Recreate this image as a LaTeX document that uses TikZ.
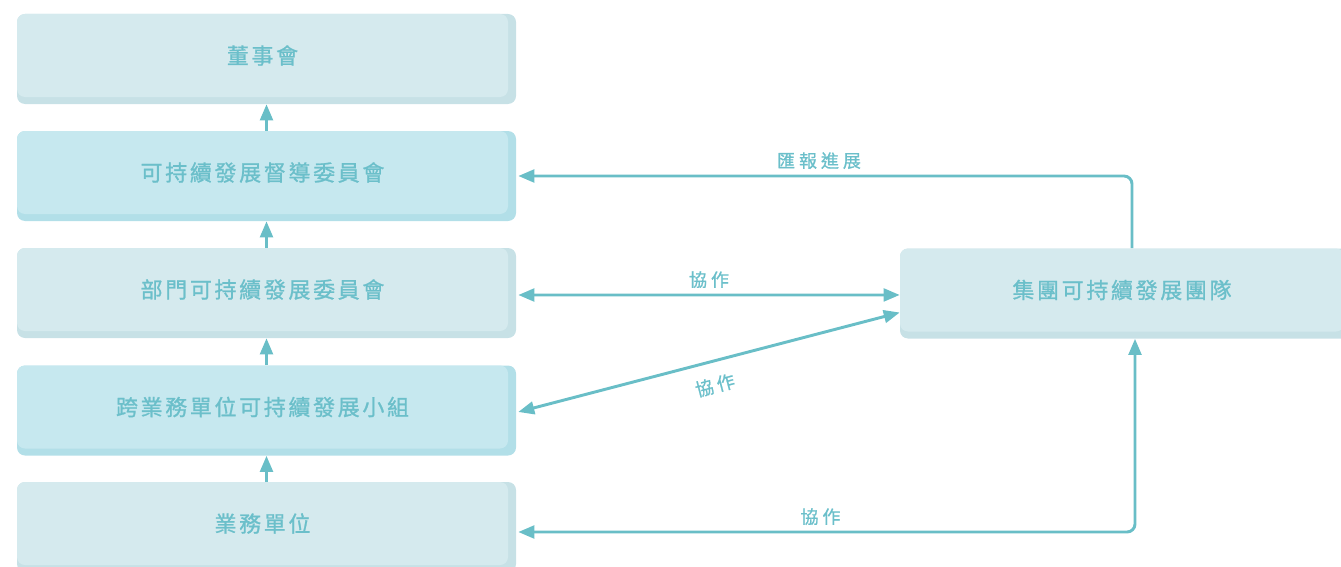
\documentclass[tikz,border=0pt]{standalone}
\usepackage{fontspec}
\newfontfamily\cjkbox[LetterSpace=12,FakeBold=1]{Noto Sans CJK TC}
\newfontfamily\cjklab[LetterSpace=22,FakeBold=1]{Noto Sans CJK TC}
\usetikzlibrary{arrows.meta}
\definecolor{facelt}{HTML}{D5EAEE}
\definecolor{shadelt}{HTML}{C7E1E6}
\definecolor{facebl}{HTML}{C6E8EF}
\definecolor{shadebl}{HTML}{B2DFE8}
\definecolor{txt}{HTML}{6BBFCA}
\definecolor{ln}{HTML}{69BEC7}
\begin{document}
\begin{tikzpicture}[x=0.75pt,y=-0.75pt,
  orgbox/.style 2 args={rectangle, rounded corners=6pt, minimum width=374.25pt, minimum height=67.5pt, inner sep=0pt, fill=#2,
    path picture={\fill[#1, rounded corners=6pt] (path picture bounding box.north west) rectangle ([xshift=-6pt,yshift=5.25pt]path picture bounding box.south east);}},
  boxtext/.style={text=txt, font=\cjkbox\fontsize{16.5}{19}\selectfont, inner sep=0pt},
  lab/.style={text=txt, font=\cjklab\fontsize{13.5}{16}\selectfont, inner sep=0pt, anchor=base, yshift=6.4pt},
  conn/.style={draw=ln, line width=2.2pt, -{Triangle[length=12pt,width=9.5pt]}},
  both/.style={{Triangle[length=12pt,width=9.5pt]}-{Triangle[length=12pt,width=9.5pt]}},
]
\useasboundingbox (0,0) rectangle (1341,567);

\node[orgbox={facelt}{shadelt}] (b1) at (266.5,59) {};
\node[boxtext] (b1t) at ([shift={(-4,-3.5)}]b1.center) {董事會};
\node[orgbox={facebl}{shadebl}] (b2) at (266.5,176) {};
\node[boxtext] (b2t) at ([shift={(-4,-3.5)}]b2.center) {可持續發展督導委員會};
\node[orgbox={facelt}{shadelt}] (b3) at (266.5,293) {};
\node[boxtext] (b3t) at ([shift={(-4,-3.5)}]b3.center) {部門可持續發展委員會};
\node[orgbox={facebl}{shadebl}] (b4) at (266.5,410.5) {};
\node[boxtext] (b4t) at ([shift={(-4,-3.5)}]b4.center) {跨業務單位可持續發展小組};
\node[orgbox={facelt}{shadelt}] (b5) at (266.5,527) {};
\node[boxtext] (b5t) at ([shift={(-4,-3.5)}]b5.center) {業務單位};

\node[orgbox={facelt}{shadelt}, minimum width=339pt] (rb) at (1126,293.5) {};
\node[boxtext] (rbt) at ([shift={(-4,-3.5)}]rb.center) {集團可持續發展團隊};

\draw[conn] (b2.north) -- (b1.south);
\draw[conn] (b3.north) -- (b2.south);
\draw[conn] (b4.north) -- (b3.south);
\draw[conn] (b5.north) -- (b4.south);

\draw[conn, rounded corners=6pt] ([xshift=4.5pt]rb.north) |- node[lab, pos=0.755] (l1) {匯報進展} ([xshift=1.5pt]b2.east);
\draw[conn, both] ([xshift=1.5pt,yshift=-1.5pt]b3.east) -- node[lab] (l2) {協作} ([yshift=-1.1pt]rb.west);
\draw[conn, both] ([xshift=1.5pt,yshift=-1.1pt]b4.east) -- node[text=txt, font=\cjklab\fontsize{13.5}{16}\selectfont, sloped, anchor=north, inner xsep=0pt, inner ysep=10.5pt] (l3) {協作} ([yshift=-14.25pt]rb.west);
\draw[conn, both, rounded corners=6pt] ([xshift=6.75pt]rb.south) |- node[lab, pos=0.755] (l4) {協作} ([xshift=1.5pt,yshift=-3.75pt]b5.east);
\end{tikzpicture}
\end{document}
